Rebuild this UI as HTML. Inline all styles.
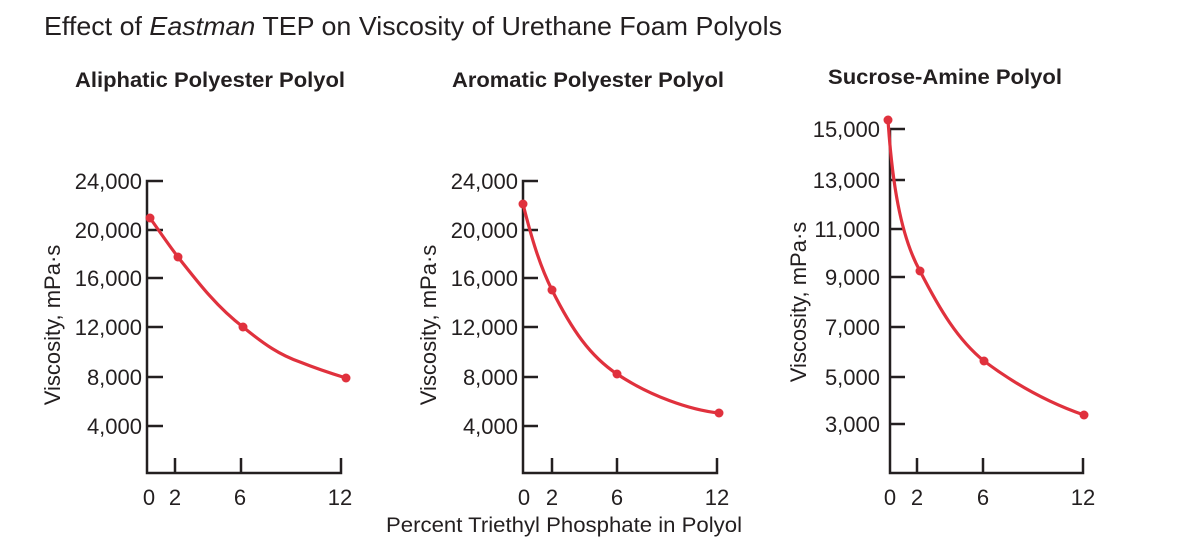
<!DOCTYPE html>
<html><head><meta charset="utf-8"><style>
html,body{margin:0;padding:0;background:#fff;}
svg text{font-family:"Liberation Sans",Arial,sans-serif;fill:#231f20;}
</style></head><body>
<svg width="1187" height="549" viewBox="0 0 1187 549" xmlns="http://www.w3.org/2000/svg">
<text x="44" y="35" font-size="26" textLength="738" lengthAdjust="spacingAndGlyphs">Effect of <tspan font-style="italic">Eastman</tspan> TEP on Viscosity of Urethane Foam Polyols</text>
<text x="75" y="87" font-size="21" font-weight="bold" textLength="270" lengthAdjust="spacingAndGlyphs">Aliphatic Polyester Polyol</text>
<text x="452" y="87" font-size="21" font-weight="bold" textLength="272" lengthAdjust="spacingAndGlyphs">Aromatic Polyester Polyol</text>
<text x="828" y="84" font-size="21" font-weight="bold" textLength="234" lengthAdjust="spacingAndGlyphs">Sucrose-Amine Polyol</text>

<g stroke="#231f20" stroke-width="2.5" fill="none">
<path d="M163,181 H147 V473 H341 V458 M175,473 V458 M241,473 V458 M147,230 H163 M147,278 H163 M147,327 H163 M147,377 H163 M147,426 H163"/>
<path d="M538,181 H523 V473 H717 V458 M552,473 V458 M617,473 V458 M523,230 H538 M523,278 H538 M523,327 H538 M523,377 H538 M523,426 H538"/>
<path d="M905,129 H890 V473 H1083 V458 M917,473 V458 M983,473 V458 M890,180 H905 M890,229 H905 M890,277 H905 M890,327 H905 M890,377 H905 M890,424 H905"/>
</g>

<g font-size="22" text-anchor="end">
<text x="142" y="189">24,000</text><text x="142" y="238">20,000</text><text x="142" y="286">16,000</text><text x="142" y="335">12,000</text><text x="142" y="385">8,000</text><text x="142" y="434">4,000</text>
<text x="518" y="189">24,000</text><text x="518" y="238">20,000</text><text x="518" y="286">16,000</text><text x="518" y="335">12,000</text><text x="518" y="385">8,000</text><text x="518" y="434">4,000</text>
<text x="880" y="137">15,000</text><text x="880" y="188">13,000</text><text x="880" y="237">11,000</text><text x="880" y="285">9,000</text><text x="880" y="335">7,000</text><text x="880" y="385">5,000</text><text x="880" y="432">3,000</text>
</g>
<g font-size="22" text-anchor="middle">
<text x="149" y="505">0</text><text x="175" y="505">2</text><text x="240" y="505">6</text><text x="340" y="505">12</text>
<text x="524" y="505">0</text><text x="552" y="505">2</text><text x="617" y="505">6</text><text x="717" y="505">12</text>
<text x="890" y="505">0</text><text x="917" y="505">2</text><text x="983" y="505">6</text><text x="1083" y="505">12</text>
</g>
<text x="386" y="532" font-size="21" textLength="356" lengthAdjust="spacingAndGlyphs">Percent Triethyl Phosphate in Polyol</text>
<g font-size="22" text-anchor="middle">
<text transform="translate(60,325) rotate(-90)">Viscosity, mPa·s</text>
<text transform="translate(436,325) rotate(-90)">Viscosity, mPa·s</text>
<text transform="translate(806,302) rotate(-90)">Viscosity, mPa·s</text>
</g>

<g stroke="#e0313d" stroke-width="3.2" fill="none" stroke-linecap="round">
<path d="M150,218 C160,232 168,244 178,257 C200,285 218,308 243,327 C265,345 280,355 300,362 C320,370 333,374 346,378"/>
<path d="M523,204 C532,240 540,266 552,290 C572,330 590,356 617,374 C650,396 690,410 719,413"/>
<path d="M888,120 C892,180 900,235 920,271 C940,310 958,340 984,361 C1020,388 1055,405 1084,415"/>
</g>
<g fill="#e0313d">
<circle cx="150" cy="218" r="4.5"/><circle cx="178" cy="257" r="4.5"/><circle cx="243" cy="327" r="4.5"/><circle cx="346" cy="378" r="4.5"/>
<circle cx="523" cy="204" r="4.5"/><circle cx="552" cy="290" r="4.5"/><circle cx="617" cy="374" r="4.5"/><circle cx="719" cy="413" r="4.5"/>
<circle cx="888" cy="120" r="4.5"/><circle cx="920" cy="271" r="4.5"/><circle cx="984" cy="361" r="4.5"/><circle cx="1084" cy="415" r="4.5"/>
</g>
</svg>
</body></html>
